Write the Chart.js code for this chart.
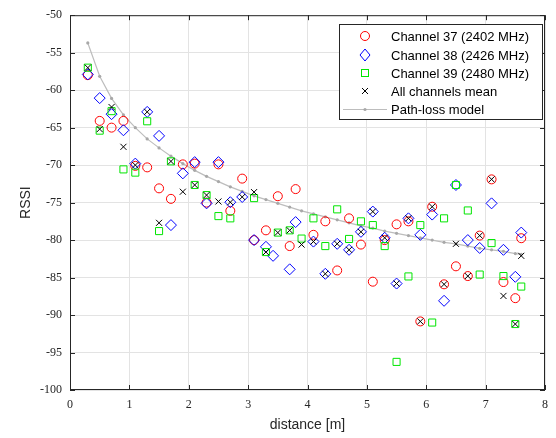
<!DOCTYPE html>
<html>
<head>
<meta charset="utf-8">
<title>RSSI vs distance</title>
<script src="https://cdn.jsdelivr.net/npm/chart.js"></script>
<style>
    body { margin: 0; background: #fff; }
    #wrap { width: 556px; height: 438px; }
</style>
</head>
<body>
<div id="wrap">
    <canvas id="myChart" width="556" height="438"></canvas>
</div>
<script>
// values
const dist37 = [0.3, 0.5, 0.7, 0.9, 1.1, 1.3, 1.5, 1.7, 1.9, 2.1, 2.3, 2.5, 2.7, 2.9, 3.1, 3.3, 3.5, 3.7, 3.8, 4.1, 4.3, 4.5, 4.7, 4.9, 5.1, 5.3, 5.5, 5.7, 5.9, 6.1, 6.3, 6.5, 6.7, 6.9, 7.1, 7.3, 7.5, 7.6];
const rssi37 = [-58.0, -64.1, -65.0, -64.1, -70.1, -70.3, -73.1, -74.5, -69.9, -69.8, -75.0, -69.9, -76.1, -71.8, -80.0, -78.7, -74.15, -80.8, -73.2, -79.3, -77.5, -84.05, -77.1, -80.6, -85.55, -80.0, -77.9, -77.5, -90.85, -75.55, -85.9, -83.5, -84.8, -79.4, -71.9, -85.6, -87.75, -79.75];

const dist38 = [0.3, 0.5, 0.7, 0.9, 1.1, 1.3, 1.5, 1.7, 1.9, 2.1, 2.3, 2.5, 2.7, 2.9, 3.1, 3.3, 3.42, 3.7, 3.8, 4.1, 4.3, 4.5, 4.7, 4.9, 5.1, 5.3, 5.5, 5.7, 5.9, 6.1, 6.3, 6.5, 6.7, 6.9, 7.1, 7.3, 7.5, 7.6];
const rssi38 = [-57.9, -61.06, -63.2, -65.35, -69.8, -62.9, -66.1, -78.0, -71.1, -69.6, -75.1, -69.6, -74.95, -74.25, -80.0, -80.9, -82.1, -83.9, -77.6, -80.2, -84.5, -80.5, -81.3, -78.9, -76.2, -79.7, -85.8, -77.1, -79.3, -76.6, -88.1, -72.65, -80.0, -81.05, -75.1, -81.3, -84.9, -79.0];

const dist39 = [0.3, 0.5, 0.7, 0.9, 1.1, 1.3, 1.5, 1.7, 2.1, 2.3, 2.5, 2.7, 3.1, 3.3, 3.5, 3.7, 3.9, 4.1, 4.3, 4.5, 4.7, 4.9, 5.1, 5.3, 5.5, 5.7, 5.9, 6.1, 6.3, 6.5, 6.7, 6.9, 7.1, 7.3, 7.5, 7.6];
const rssi39 = [-57.0, -65.4, -62.8, -70.57, -71.0, -64.15, -78.8, -69.5, -72.65, -74.0, -76.8, -77.1, -74.4, -81.6, -79.0, -78.7, -79.8, -77.1, -80.8, -75.9, -79.85, -77.5, -78.0, -80.8, -96.25, -84.85, -78.0, -91.0, -77.1, -72.65, -76.05, -84.6, -80.4, -84.8, -91.2, -86.2];

const distMean = [0.3, 0.5, 0.7, 0.9, 1.1, 1.3, 1.5, 1.7, 1.9, 2.1, 2.3, 2.5, 2.7, 2.9, 3.1, 3.3, 3.5, 3.7, 3.9, 4.1, 4.3, 4.5, 4.7, 4.9, 5.1, 5.3, 5.5, 5.7, 5.9, 6.1, 6.3, 6.5, 6.7, 6.9, 7.1, 7.3, 7.5, 7.6];
const rssiMean = [-57.0, -65.2, -62.25, -67.56, -70.0, -62.9, -77.7, -69.5, -73.55, -72.65, -74.0, -74.85, -74.95, -74.25, -73.6, -81.6, -79.0, -78.7, -80.6, -80.2, -84.5, -80.5, -81.3, -78.9, -76.2, -79.7, -85.8, -77.1, -90.85, -75.55, -85.9, -80.5, -84.8, -79.4, -71.9, -87.45, -91.2, -82.1];

const distModel = [0.3, 0.5, 0.7, 0.9, 1.1, 1.3, 1.5, 1.7, 1.9, 2.1, 2.3, 2.5, 2.7, 2.9, 3.1, 3.3, 3.5, 3.7, 3.9, 4.1, 4.3, 4.5, 4.7, 4.9, 5.1, 5.3, 5.5, 5.7, 5.9, 6.1, 6.3, 6.5, 6.7, 6.9, 7.1, 7.3, 7.5, 7.6];
const rssiModel = [-53.7, -58.15, -61.1, -63.3, -65.0, -66.5, -67.7, -68.8, -69.8, -70.7, -71.5, -72.2, -72.9, -73.5, -74.1, -74.6, -75.1, -75.6, -76.1, -76.5, -76.9, -77.3, -77.7, -78.1, -78.4, -78.8, -79.1, -79.4, -79.7, -80.0, -80.3, -80.5, -80.8, -81.1, -81.3, -81.5, -81.8, -81.9];

const seriesLabels = ['Channel 37 (2402 MHz)', 'Channel 38 (2426 MHz)', 'Channel 39 (2480 MHz)', 'All channels mean', 'Path-loss model'];

function toPoints(xs, ys) {
    return xs.map((x, i) => ({ x: x, y: ys[i] }));
}

const axisColor = '#262626';
const gridColor = '#e3e3e3';
const red = '#ff0000';
const blue = '#0000ff';
const green = '#00e600';

// box on all sides + inward tick marks + legend box
const boxPlugin = {
    id: 'boxPlugin',
    afterDraw(chart) {
        const { ctx, chartArea: a, scales } = chart;
        ctx.save();
        ctx.strokeStyle = axisColor;
        ctx.lineWidth = 1;
        ctx.strokeRect(a.left + 0.5, a.top + 0.5, a.right - a.left - 1, a.bottom - a.top - 1);
        ctx.beginPath();
        scales.x.ticks.forEach(t => {
            const px = Math.round(scales.x.getPixelForValue(t.value)) + 0.5;
            ctx.moveTo(px, a.bottom);
            ctx.lineTo(px, a.bottom - 5);
            ctx.moveTo(px, a.top);
            ctx.lineTo(px, a.top + 5);
        });
        scales.y.ticks.forEach(t => {
            const py = Math.round(scales.y.getPixelForValue(t.value)) + 0.5;
            ctx.moveTo(a.left, py);
            ctx.lineTo(a.left + 5, py);
            ctx.moveTo(a.right, py);
            ctx.lineTo(a.right - 5, py);
        });
        ctx.stroke();

        // legend
        const lx = 339.5, ly = 24.5, lw = 203, lh = 95;
        ctx.fillStyle = '#ffffff';
        ctx.fillRect(lx, ly, lw, lh);
        ctx.strokeStyle = axisColor;
        ctx.strokeRect(lx, ly, lw, lh);

        const rows = [36, 55, 73, 91, 109];
        const mx = 365;
        ctx.lineWidth = 1;
        // circle
        ctx.strokeStyle = red;
        ctx.beginPath();
        ctx.arc(mx, rows[0], 4.5, 0, Math.PI * 2);
        ctx.stroke();
        // diamond
        ctx.strokeStyle = blue;
        ctx.beginPath();
        ctx.moveTo(mx, rows[1] - 6);
        ctx.lineTo(mx + 5, rows[1]);
        ctx.lineTo(mx, rows[1] + 6);
        ctx.lineTo(mx - 5, rows[1]);
        ctx.closePath();
        ctx.stroke();
        // square
        ctx.strokeStyle = green;
        ctx.strokeRect(mx - 3.5, rows[2] - 3.5, 7, 7);
        // cross
        ctx.strokeStyle = '#000000';
        ctx.beginPath();
        ctx.moveTo(mx - 3, rows[3] - 3);
        ctx.lineTo(mx + 3, rows[3] + 3);
        ctx.moveTo(mx + 3, rows[3] - 3);
        ctx.lineTo(mx - 3, rows[3] + 3);
        ctx.stroke();
        // model line
        ctx.strokeStyle = '#bdbdbd';
        ctx.lineWidth = 1.2;
        ctx.beginPath();
        ctx.moveTo(343, rows[4] + 0.5);
        ctx.lineTo(387, rows[4] + 0.5);
        ctx.stroke();
        ctx.fillStyle = '#a8a8a8';
        ctx.beginPath();
        ctx.arc(mx, rows[4] + 0.5, 1.6, 0, Math.PI * 2);
        ctx.fill();

        ctx.fillStyle = '#000000';
        ctx.font = '13px "Liberation Sans", Arial, sans-serif';
        ctx.textBaseline = 'middle';
        ctx.textAlign = 'left';
        seriesLabels.forEach((s, i) => ctx.fillText(s, 391, rows[i] + 1));
        ctx.restore();
    }
};

const ctx = document.getElementById('myChart');

new Chart(ctx, {
    type: 'scatter',
    data: {
        datasets: [
            {
                label: seriesLabels[4],
                data: toPoints(distModel, rssiModel),
                showLine: true,
                borderColor: '#bdbdbd',
                borderWidth: 1.2,
                pointRadius: 1.6,
                pointBorderWidth: 0,
                pointBackgroundColor: '#a8a8a8',
                order: 5
            }, {
                label: seriesLabels[3],
                data: toPoints(distMean, rssiMean),
                pointStyle: 'crossRot',
                pointRadius: 4.3,
                borderColor: '#000000',
                borderWidth: 1,
                order: 1
            }, {
                label: seriesLabels[2],
                data: toPoints(dist39, rssi39),
                pointStyle: 'rect',
                pointRadius: 5,
                borderColor: green,
                backgroundColor: 'rgba(0,0,0,0)',
                borderWidth: 1,
                order: 2
            }, {
                label: seriesLabels[1],
                data: toPoints(dist38, rssi38),
                pointStyle: 'rectRot',
                pointRadius: 5.5,
                borderColor: blue,
                backgroundColor: 'rgba(0,0,0,0)',
                borderWidth: 1,
                order: 3
            }, {
                label: seriesLabels[0],
                data: toPoints(dist37, rssi37),
                pointStyle: 'circle',
                pointRadius: 4.5,
                borderColor: red,
                backgroundColor: 'rgba(0,0,0,0)',
                borderWidth: 1,
                order: 4
            }
        ]
    },
    options: {
        responsive: false,
        animation: false,
        layout: { padding: { top: 12, right: 8, left: 0, bottom: 0 } },
        plugins: {
            legend: { display: false },
            tooltip: { enabled: false }
        },
        scales: {
            x: {
                type: 'linear',
                min: 0,
                max: 8,
                afterFit: s => { s.height = 48; },
                ticks: {
                    stepSize: 1,
                    padding: 8,
                    color: axisColor,
                    font: { family: '"Liberation Serif", "DejaVu Serif", serif', size: 12 }
                },
                grid: { color: gridColor, drawTicks: false },
                border: { display: false },
                title: {
                    display: true,
                    text: 'distance [m]',
                    color: axisColor,
                    font: { family: '"Liberation Sans", Arial, sans-serif', size: 14 },
                    padding: { top: 0, bottom: 4 }
                }
            },
            y: {
                type: 'linear',
                min: -100,
                max: -50,
                afterFit: s => { s.width = 70; },
                ticks: {
                    stepSize: 5,
                    padding: 8,
                    color: axisColor,
                    font: { family: '"Liberation Serif", "DejaVu Serif", serif', size: 12 }
                },
                grid: { color: gridColor, drawTicks: false },
                border: { display: false },
                title: {
                    display: true,
                    text: 'RSSI',
                    color: axisColor,
                    font: { family: '"Liberation Sans", Arial, sans-serif', size: 14 },
                    padding: { top: 18, bottom: 0 }
                }
            }
        }
    },
    plugins: [boxPlugin]
});
</script>
</body>
</html>
